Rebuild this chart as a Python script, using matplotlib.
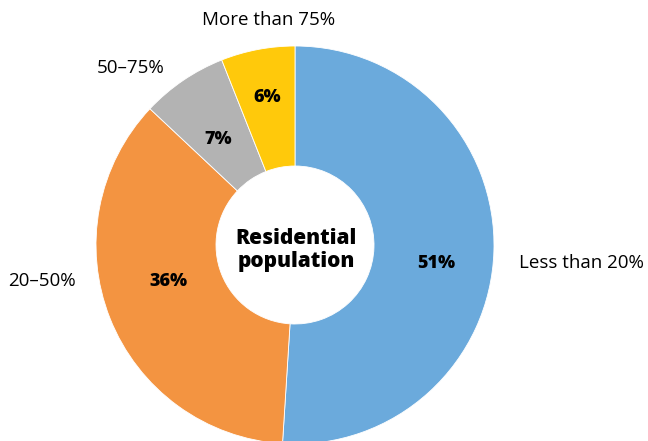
import matplotlib
matplotlib.use("Agg")
import matplotlib.pyplot as plt

# Share of residential population by band
categories = ["Less than 20%", "20–50%", "50–75%", "More than 75%"]
shares = [51, 36, 7, 6]
colors = ["#6BAADC", "#F39441", "#B3B3B3", "#FFC90B"]

W, H = 648, 441
plt.rcParams["font.family"] = ["Open Sans", "DejaVu Sans"]

fig = plt.figure(figsize=(W / 100, H / 100), dpi=100)
ax = fig.add_axes([0, 0, 1, 1])

cx, cy = 295, H - 245
R = 199
ring = 120

ax.pie(
    shares, colors=colors, startangle=90, counterclock=False,
    center=(cx, cy), radius=R, frame=True,
    wedgeprops=dict(width=ring, edgecolor="white", linewidth=0.6),
)
ax.set_xlim(0, W)
ax.set_ylim(0, H)
ax.set_aspect("equal")
ax.axis("off")

# percentage labels inside the ring (pixel positions, y measured from top)
pct_pos = [(436, 263), (168, 281), (218, 140), (267, 97)]
for (px, py), v in zip(pct_pos, shares):
    ax.text(px, H - py, f"{v}%", ha="center", va="center",
            fontsize=13, fontweight=800, color="black")

# category labels outside the ring
cat_pos = [(519, 263), (8, 281), (97, 68), (202, 20)]
for (px, py), name in zip(cat_pos, categories):
    ax.text(px, H - py, name, ha="left", va="center", fontsize=13.5,
            color="black")

ax.text(cx + 1, cy - 5, "Residential\npopulation", ha="center", va="center",
        fontsize=15, fontweight=800, linespacing=1.1, color="black")

fig.savefig("out.png", dpi=100)
